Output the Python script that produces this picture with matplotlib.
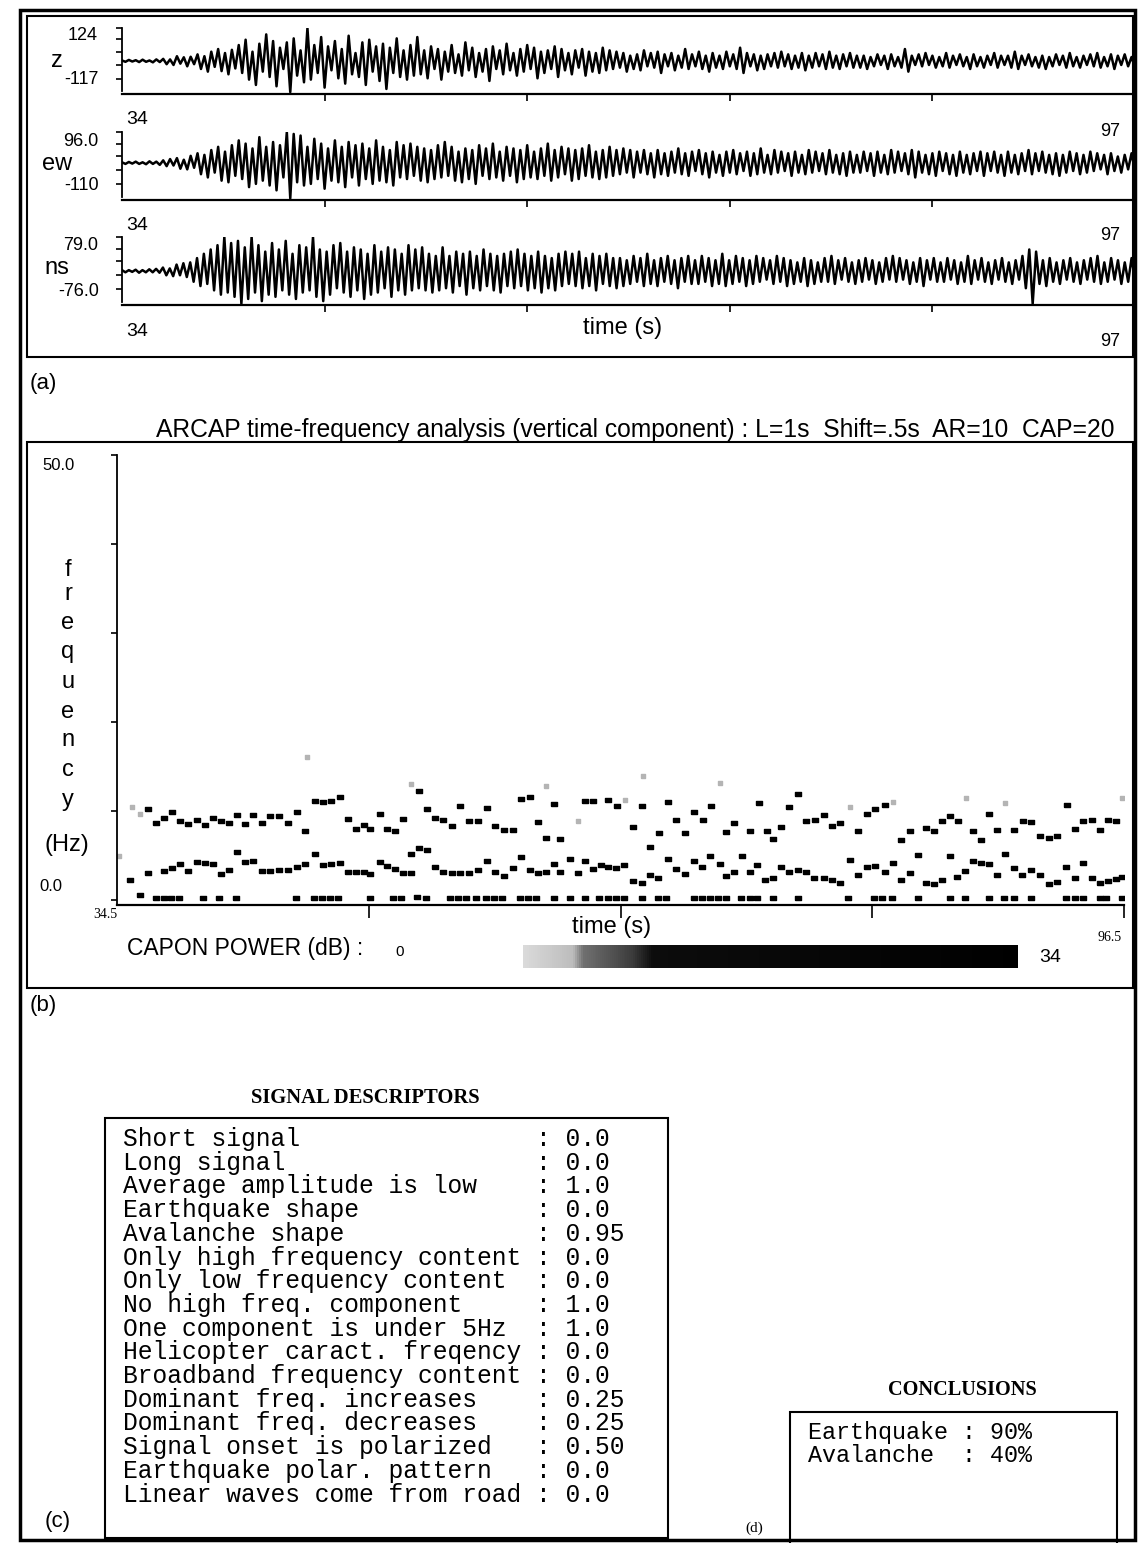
import matplotlib

matplotlib.use("Agg")
import matplotlib.pyplot as plt
import numpy as np
from matplotlib.patches import Rectangle
from matplotlib.colors import LinearSegmentedColormap, Normalize
from matplotlib.colorbar import ColorbarBase

W, H = 1138, 1543
SANS = "Liberation Sans"
SERIF = "Liberation Serif"
MONO = "Liberation Mono"

# ---- (a) three-component seismogram, amplitudes
T_START, T_END = 34, 97
SEIS_TICKS = [46.6, 59.2, 71.8, 84.4, 97.0]

z_amp = [2, -3, 4, -2, 3, -4, 5, -3, 2, -5, 6, -4,
         8, -12, 6, -15, 18, -10, 14, -20, 16, -12,
         25, -30, 18, -40, 35, -22, 45, -38, 30, -50, 42, -28,
         60, -45, 80, -70, 35, -90, 65, -40, 100, -60, 75, -95, 50, -30, 70, -117, 85,
         -55, 40, -80, 124, -70, 60, -45, 90, -100, 55, -35, 75, -65, 45, -85, 95, -50,
         30, -60, 70, -90, 80, -40, 55, -75, 65, -105, 50, -45, 85, -60, 40, -70, 60,
         -55, 90,
         -50, 40, -65, 55, -30, 45, -70, 35, -40, 60, -45, 25, -55, 70, -35, 50, -60,
         30, -40, 45, -75, 55, -30, 40, -50, 65, -35, 30, -55, 45, -40, 60, -30, 50,
         -65, 35, -45, 40, -30, 55, -60, 45, -35, 30, -50, 40, -25, 45, -55, 35, -40,
         30, -45, 50, -35, 40, -30,
         35, -25, 30, -40, 20, -30, 25, -35, 40, -20, 30, -25, 35, -45, 25, -20, 30,
         -35, 20, -25, 45, -30, 25, -20, 35, -30, 20, -40, 30, -25, 20, -30, 35, -20,
         25, -30, 50, -45, 30, -20, 25, -35, 20, -30, 25, -20, 30, -25, 35, -20, 25,
         -30, 20, -25, 30, -35, 20, -25, 30, -20, 25, -30, 35, -25, 20, -30, 25, -20,
         30, -25, 20,
         -25, 20, -30, 15, -20, 25, -15, 20, -30, 25, -20, 15, -25, 45, -40, 20, -15,
         25, -20, 30, -15, 20, -25, 15, -20, 30, -25, 20, -15, 25, -20, 15, -30, 25,
         -20, 15, -25, 20, -15, 30, -25, 20, -15, 20, -25, 35, -30, 20, -15, 25, -20,
         15, -25, 20, -30, 15, -20, 25, -15, 20, -25, 30, -20, 15, -25, 20, -15, 25,
         -20, 30, -25, 15, -20, 25, -30, 20, -15, 25, -20, 15, -25]

ew_amp = [2, -3, 3, -2, 4, -3, 2, -4, 5, -3, 4, -6,
          8, -10, 12, -8, 15, -18, 10, -20, 22, -15,
          30, -35, 25, -45, 40, -30, 50, -55, 35, -60, 55, -40,
          70, -50, 60, -75, 45, -65, 80, -55, 50, -70, 65, -85, 55, -45, 96, -110, 90,
          -60, 85, -70, 50, -65, 75, -50, 60, -80, 45, -55, 70, -60, 50, -75, 65, -45,
          55, -70, 60, -50, 45, -65, 70, -55, 50, -60, 40, -70, 65, -45, 55, -50, 60,
          -40, 50,
          -55, 45, -60, 40, -50, 55, -45, 65, -40, 50, -55, 35, -60, 45, -50, 40, -65,
          55, -40, 45, -50, 60, -45, 35, -55, 50, -40, 45, -60, 40, -50, 55, -45, 35,
          -50, 45, -40, 60, -55, 40, -45, 50, -35, 45, -55, 40, -50, 45, -40, 55, -45,
          35, -50, 40, -45, 50, -40,
          40, -35, 45, -30, 40, -45, 35, -30, 40, -35, 30, -45, 40, -35, 30, -40, 35,
          -30, 45, -35, 30, -40, 35, -25, 40, -35, 30, -45, 35, -30, 25, -40, 35, -30,
          40, -35, 30, -25, 35, -40, 30, -35, 45, -30, 25, -35, 40, -30, 35, -25, 30,
          -40, 35, -30, 25, -35, 40, -30, 35, -25, 30, -35, 40, -30, 25, -35, 30, -40,
          35, -30, 25,
          -30, 35, -25, 30, -40, 35, -30, 25, -35, 40, -30, 35, -25, 30, -35, 40, -45,
          35, -30, 25, -35, 30, -40, 35, -25, 30, -35, 25, -40, 35, -30, 25, -35, 30,
          -25, 35, -40, 30, -25, 35, -30, 25, -40, 35, -30, 25, -35, 30, -25, 40, -35,
          30, -25, 35, -30, 25, -35, 30, -40, 25, -30, 35, -25, 30, -35, 25, -30, 35,
          -25, 30, -20, 25, -35, 30, -25, 20, -30, 25, -20, 30, -25]

ns_amp = [2, -3, 2, -2, 3, -4, 2, -3, 4, -3, 5, -4,
          8, -10, 6, -12, 15, -10, 18, -14,
          20, -25, 30, -35, 40, -30, 50, -45, 60, -55, 79, -50, 65, -60,
          70, -76, 55, -65, 79, -50, 60, -70, 45, -55, 65, -60, 50, -45, 70, -55, 40,
          -65, 60, -50, 55, -45, 79, -60, 50, -70, 45, -55, 60, -40, 65, -50, 45, -60,
          55, -45, 50, -65, 40, -55, 60, -50, 45, -40, 55, -60, 50, -45, 40, -55, 60,
          -45, 50, -40, 55,
          -45, 40, -50, 35, -45, 55, -40, 35, -50, 45, -35, 40, -55, 45, -40, 35, -45,
          50, -35, 40, -45, 35, -50, 40, -35, 45, -40, 50, -35, 40, -45, 35, -40, 45,
          -50, 35, -40, 30, -45, 40, -35, 45, -30, 40, -35, 45, -40, 30, -35, 40, -45,
          35, -30, 40, -35, 30, -40,
          30, -35, 25, -30, 35, -25, 30, -35, 40, -30, 25, -35, 30, -25, 35, -30, 25,
          -40, 30, -25, 35, -30, 25, -30, 35, -25, 30, -35, 25, -30, 40, -35, 25, -30,
          35, -25, 30, -35, 25, -30, 35, -25, 30, -20, 25, -30, 35, -25, 30, -35, 25,
          -30, 20, -25, 30, -35, 25, -30, 20, -25, 30, -25, 35, -30, 25, -20, 30, -25,
          20, -30, 25,
          -25, 30, -20, 25, -30, 20, -25, 30, -20, 35, -25, 30, -20, 25, -30, 20, -25,
          30, -35, 25, -20, 30, -25, 20, -25, 30, -20, 25, -30, 20, -25, 35, -30, 25,
          -20, 30, -25, 20, -30, 25, -20, 30, -25, 20, -30, 25, -20, 35, -40, 50, -76,
          45, -30, 25, -35, 30, -25, 20, -30, 25, -20, 30, -25, 20, -30, 25, -20, 30,
          -25, 35, -30, 20, -25, 30, -20, 25, -30, 20, -25, 30, -20]

# ---- (b) ARCAP spectral peaks (time s, frequency Hz)
up_t = [36.4, 36.9, 37.4, 37.9, 38.4, 38.9, 39.4, 39.9, 40.4, 40.9, 41.4, 41.9, 42.4,
        42.9, 43.4, 43.9, 44.5, 45.0, 45.6, 46.1, 46.7, 47.2, 47.7, 48.2, 48.7, 49.2,
        49.7, 50.1, 50.7, 51.1, 51.6, 52.1, 53.1, 53.6, 54.1, 54.6, 55.1, 55.6, 56.2,
        56.7, 57.3, 57.8, 58.3, 58.9, 59.4, 59.9, 60.4, 60.9, 61.4, 61.8, 63.3, 63.8,
        64.7, 65.3, 66.3, 66.8, 67.3, 67.9, 68.4, 68.9, 69.5, 70.0, 70.6, 71.1, 72.0,
        72.5, 73.5, 74.0, 74.5, 74.9, 75.4, 75.9, 76.4, 76.9, 77.5, 78.0, 78.5, 79.0,
        80.1, 80.7, 81.2, 81.8, 82.8, 83.3, 84.3, 84.8, 85.3, 85.8, 86.3, 87.2, 87.7,
        88.2, 88.7, 89.7, 90.3, 90.8, 91.3, 91.9, 92.4, 93.0, 93.5, 94.0, 94.5, 95.0,
        95.5, 96.0]
up_f = [10.2, 8.6, 9.2, 9.9, 8.9, 8.5, 9.0, 8.4, 9.2, 8.9, 8.7, 9.6, 8.5,
        9.6, 8.6, 9.4, 9.4, 8.7, 9.9, 7.8, 11.1, 11.0, 11.1, 11.6, 9.1, 8.0,
        8.4, 8.0, 9.7, 8.0, 7.8, 9.1, 12.3, 10.2, 9.2, 9.0, 8.3, 10.6, 8.9,
        8.9, 10.3, 8.3, 7.9, 7.9, 11.4, 11.6, 8.8, 7.0, 10.8, 6.9, 11.1, 11.1,
        11.2, 10.6, 8.2, 10.6, 6.0, 7.5, 11.0, 9.0, 7.5, 9.9, 9.0, 10.6, 7.6,
        8.7, 7.8, 10.9, 7.8, 6.9, 8.2, 10.4, 11.9, 8.9, 9.0, 9.6, 8.3, 8.6,
        7.7, 9.7, 10.2, 10.7, 6.7, 7.8, 8.1, 7.8, 8.9, 9.4, 8.9, 7.8, 6.7,
        9.7, 7.9, 7.9, 8.9, 8.8, 7.2, 7.0, 7.2, 10.7, 8.0, 8.9, 9.0, 7.9,
        9.0, 8.9]

mid_t = [35.3, 36.4, 37.4, 37.9, 38.4, 38.9, 39.4, 39.9, 40.4, 40.9, 41.4, 41.9, 42.4,
         42.9, 43.4, 43.9, 44.5, 45.0, 45.6, 46.1, 46.7, 47.2, 47.7, 48.2, 48.7, 49.2,
         49.7, 50.1, 50.7, 51.1, 51.6, 52.1, 52.6, 52.6, 53.1, 53.6, 54.1, 54.6, 55.1,
         55.6, 56.2, 56.7, 57.3, 57.8, 58.3, 58.9, 59.4, 59.9, 60.4, 60.9, 61.4, 61.8,
         62.4, 62.9, 63.3, 63.8, 64.3, 64.7, 65.2, 65.7, 66.3, 66.8, 67.3, 67.8, 68.4,
         68.9, 69.5, 70.0, 70.5, 71.0, 71.6, 72.0, 72.5, 73.0, 73.5, 73.9, 74.4, 74.9,
         75.4, 75.9, 76.4, 76.9, 77.4, 78.0, 78.5, 79.0, 79.6, 80.1, 80.7, 81.2, 81.8,
         82.3, 82.8, 83.3, 83.8, 84.3, 84.8, 85.3, 85.8, 86.2, 86.7, 87.2, 87.7, 88.2,
         88.7, 89.2, 89.7, 90.2, 90.8, 91.3, 91.9, 92.4, 92.9, 93.5, 94.0, 94.5, 95.0,
         95.5, 96.0, 96.4]
mid_f = [2.3, 3.0, 3.3, 3.6, 4.1, 3.3, 4.3, 4.2, 4.1, 2.9, 3.4, 5.4, 4.3,
         4.4, 3.3, 3.3, 3.4, 3.4, 3.7, 4.0, 5.2, 3.9, 4.0, 4.2, 3.1, 3.1,
         3.2, 2.9, 4.3, 3.8, 3.5, 3.0, 3.0, 5.2, 5.9, 5.6, 3.7, 3.2, 3.0,
         3.0, 3.0, 3.4, 4.4, 3.2, 2.7, 3.6, 4.8, 3.4, 3.0, 3.1, 4.1, 3.2,
         4.6, 3.0, 4.4, 3.5, 3.9, 3.7, 3.6, 3.9, 2.1, 1.9, 2.8, 2.5, 4.6,
         3.5, 2.9, 4.4, 3.7, 4.9, 4.1, 2.7, 3.1, 4.9, 3.1, 3.9, 2.2, 2.5,
         3.7, 3.1, 3.4, 3.1, 2.5, 2.5, 2.3, 1.9, 4.5, 2.8, 3.7, 3.8, 3.2,
         4.2, 2.2, 3.0, 5.1, 1.9, 1.8, 2.2, 4.9, 2.6, 3.3, 4.4, 4.2, 4.0,
         2.8, 5.2, 3.6, 2.8, 3.4, 2.8, 1.8, 2.0, 3.7, 2.5, 4.2, 2.5, 1.9,
         2.1, 2.4, 2.6]

low_t = [35.9, 36.9, 37.4, 37.8, 38.3, 39.8, 40.8, 41.8, 45.5, 46.6, 47.1, 47.6, 48.1,
         50.1, 51.5, 52.0, 53.0, 53.5, 55.0, 55.5, 56.0, 56.6, 57.2, 57.7, 58.2, 59.3,
         59.8, 60.3, 61.4, 62.4, 63.3, 64.2, 64.7, 65.2, 65.7, 66.8, 67.8, 68.3, 70.0,
         70.5, 71.0, 71.5, 72.0, 72.9, 73.5, 73.9, 74.9, 76.4, 79.5, 81.1, 81.6, 82.2,
         83.8, 85.8, 86.7, 88.2, 89.1, 89.7, 90.8, 92.9, 93.5, 94.0, 95.0, 95.4, 96.4]
low_f = [0.6, 0.2, 0.2, 0.2, 0.2, 0.2, 0.2, 0.2, 0.2, 0.2, 0.2, 0.2, 0.2,
         0.2, 0.2, 0.2, 0.3, 0.2, 0.2, 0.2, 0.2, 0.2, 0.2, 0.2, 0.2, 0.2,
         0.2, 0.2, 0.2, 0.2, 0.2, 0.2, 0.2, 0.2, 0.2, 0.2, 0.2, 0.2, 0.2,
         0.2, 0.2, 0.2, 0.2, 0.2, 0.2, 0.2, 0.2, 0.2, 0.2, 0.2, 0.2, 0.2,
         0.2, 0.2, 0.2, 0.2, 0.2, 0.2, 0.2, 0.2, 0.2, 0.2, 0.2, 0.2, 0.2]

faint_t = [34.6, 35.4, 35.9, 46.2, 52.6, 60.9, 62.9, 65.8, 66.9, 71.6, 79.6, 82.3, 86.8, 89.2, 96.4]
faint_f = [5.0, 10.5, 9.7, 16.1, 13.0, 12.8, 8.9, 11.2, 13.9, 13.2, 10.4, 11.0, 11.5, 10.9, 11.5]

POWER_MIN, POWER_MAX = 0, 34

# ---- (c) / (d) text tables
descriptors = ["Short signal", "Long signal", "Average amplitude is low", "Earthquake shape",
               "Avalanche shape", "Only high frequency content", "Only low frequency content",
               "No high freq. component", "One component is under 5Hz",
               "Helicopter caract. freqency", "Broadband frequency content",
               "Dominant freq. increases", "Dominant freq. decreases",
               "Signal onset is polarized", "Earthquake polar. pattern",
               "Linear waves come from road"]
descriptor_values = ["0.0", "0.0", "1.0", "0.0", "0.95", "0.0", "0.0", "1.0", "1.0",
                     "0.0", "0.0", "0.25", "0.25", "0.50", "0.0", "0.0"]
classes = ["Earthquake", "Avalanche"]
class_scores = ["90%", "40%"]


fig = plt.figure(figsize=(W / 100, H / 100), dpi=100)


def px_axes(x0, y0, x1, y1):
    return fig.add_axes([x0 / W, 1 - y1 / H, (x1 - x0) / W, (y1 - y0) / H])


def put(x, y, s, size=14, family=SANS, ha="left", **kw):
    return fig.text(x / W, 1 - y / H, s, fontsize=size, family=family, ha=ha, va="center", **kw)


def fit(x, y, s, width, family=SANS, ha="center", **kw):
    t = put(x, y, s, size=12, family=family, ha=ha, **kw)
    w = t.get_window_extent(fig.canvas.get_renderer()).width
    t.set_fontsize(12 * width / w)
    return t


def box(x0, y0, x1, y1, lw=1.5):
    fig.add_artist(Rectangle((x0 / W, 1 - y1 / H), (x1 - x0) / W, (y1 - y0) / H,
                             transform=fig.transFigure, fill=False, lw=lw, ec="black"))


# frames
box(20, 10, 1135, 1540, lw=2.5)
box(27, 16, 1133, 357, lw=1.5)
box(27, 442, 1133, 988, lw=1.5)

# ---- seismograms
panels = [
    (z_amp, (28, 94), (-124, 124), "z", "124", "-117", 36, 61, 80, 120, 131),
    (ew_amp, (132, 200), (-115, 96), "ew", "96.0", "-110", 142, 164, 186, 226, 236),
    (ns_amp, (237, 305), (-79, 79), "ns", "79.0", "-76.0", 246, 268, 291, 332, 341),
]
for vals, (y0, y1), (lo, hi), name, top_lab, bot_lab, ty, ny, by, y34, y97 in panels:
    ax = px_axes(122, y0, 1135, y1)
    t = np.linspace(T_START, T_END, len(vals))
    ax.plot(t, vals, color="black", lw=1.8)
    ax.set_xlim(T_START, T_END)
    ax.set_ylim(lo, hi)
    ax.patch.set_alpha(0)
    for s in ("top", "right"):
        ax.spines[s].set_visible(False)
    ax.spines["left"].set_bounds(lo + 0.05 * (hi - lo), hi)
    ax.spines["left"].set_linewidth(1.3)
    ax.spines["bottom"].set_linewidth(1.6)
    ax.set_yticks([lo + f * (hi - lo) for f in (1.0, 0.83, 0.64, 0.44, 0.23)])
    ax.set_yticklabels([])
    ax.set_xticks(SEIS_TICKS)
    ax.set_xticklabels([])
    ax.tick_params(axis="y", direction="out", length=4, width=1.2)
    ax.tick_params(axis="x", direction="out", length=5, width=1.2)
    put(98, ty, top_lab, size=13, ha="right")
    put(57, ny, name, size=17, ha="center")
    put(99, by, bot_lab, size=13, ha="right")
    put(137, y34, "34", size=14, ha="center")
    put(1110, y97, "97", size=13, ha="center")
put(623, 328, "time (s)", size=17, ha="center")
put(30, 383, "(a)", size=16)

# ---- time-frequency panel
fit(635, 430, "ARCAP time-frequency analysis (vertical component) : L=1s  Shift=.5s  AR=10  CAP=20", 960)

ax = px_axes(117, 455, 1124, 905)
ax.patch.set_alpha(0)
rect = [(-1.4, -1), (1.4, -1), (1.4, 1), (-1.4, 1), (-1.4, -1)]
ax.plot(up_t, up_f, ls="none", marker=rect, ms=4.7, color="black")
ax.plot(mid_t, mid_f, ls="none", marker=rect, ms=4.7, color="black")
ax.plot(low_t, low_f, ls="none", marker=rect, ms=4.7, color="black")
ax.plot(faint_t, faint_f, ls="none", marker=rect, ms=3.2, color="#b4b4b4")
ax.set_xlim(34.5, 96.5)
ax.set_ylim(-0.56, 50)
for s in ("top", "right"):
    ax.spines[s].set_visible(False)
ax.spines["left"].set_linewidth(1.3)
ax.spines["bottom"].set_linewidth(1.6)
ax.set_yticks([0, 10, 20, 30, 40, 50])
ax.set_yticklabels([])
ax.set_xticks([50, 65.5, 81, 96.5])
ax.set_xticklabels([])
ax.tick_params(axis="y", direction="out", length=4, width=1.2)
ax.tick_params(axis="x", direction="out", length=9, width=1.2)

put(59, 465, "50.0", size=12, ha="center")
put(51, 887, "0.0", size=12, ha="center")
for ch, yy in zip("frequency", [570, 594, 623, 652, 682, 712, 740, 770, 800]):
    put(68, yy, ch, size=17, ha="center")
put(67, 845, "(Hz)", size=17, ha="center")
put(105, 915, "34.5", size=10, family=SERIF, ha="center")
put(1110, 938, "96.5", size=10, family=SERIF, ha="center")
put(612, 927, "time (s)", size=17, ha="center")

put(127, 948, "CAPON POWER (dB) :", size=16.5)
put(400, 952, "0", size=11, ha="center")
put(1050, 958, "34", size=14, ha="center")
cax = px_axes(523, 945, 1018, 968)
power_cmap = LinearSegmentedColormap.from_list(
    "capon", [(0, "#dadada"), (0.1, "#bcbcbc"), (0.12, "#707070"),
              (0.22, "#3c3c3c"), (0.26, "#0c0c0c"), (1, "#000000")])
cb = ColorbarBase(cax, cmap=power_cmap, norm=Normalize(POWER_MIN, POWER_MAX),
                  orientation="horizontal")
cb.outline.set_visible(False)
cb.set_ticks([])
put(30, 1005, "(b)", size=16)

# ---- signal descriptors
fit(365, 1098, "SIGNAL DESCRIPTORS", 230, family=SERIF, weight="bold")
box(105, 1118, 668, 1538, lw=1.5)
for k, (name, val) in enumerate(zip(descriptors, descriptor_values)):
    put(123, 1139 + k * 23.7, f"{name:<27} : {val}", size=17.7, family=MONO)
put(45, 1522, "(c)", size=16)

# ---- conclusions
fit(962, 1390, "CONCLUSIONS", 148, family=SERIF, weight="bold")
box(790, 1412, 1117, 1545, lw=1.5)
for k, (name, val) in enumerate(zip(classes, class_scores)):
    put(808, 1432 + k * 23.5, f"{name:<10} : {val}", size=16.8, family=MONO)
put(745, 1528, "(d)", size=11, family=SERIF)

fig.savefig("out.png", dpi=100)
